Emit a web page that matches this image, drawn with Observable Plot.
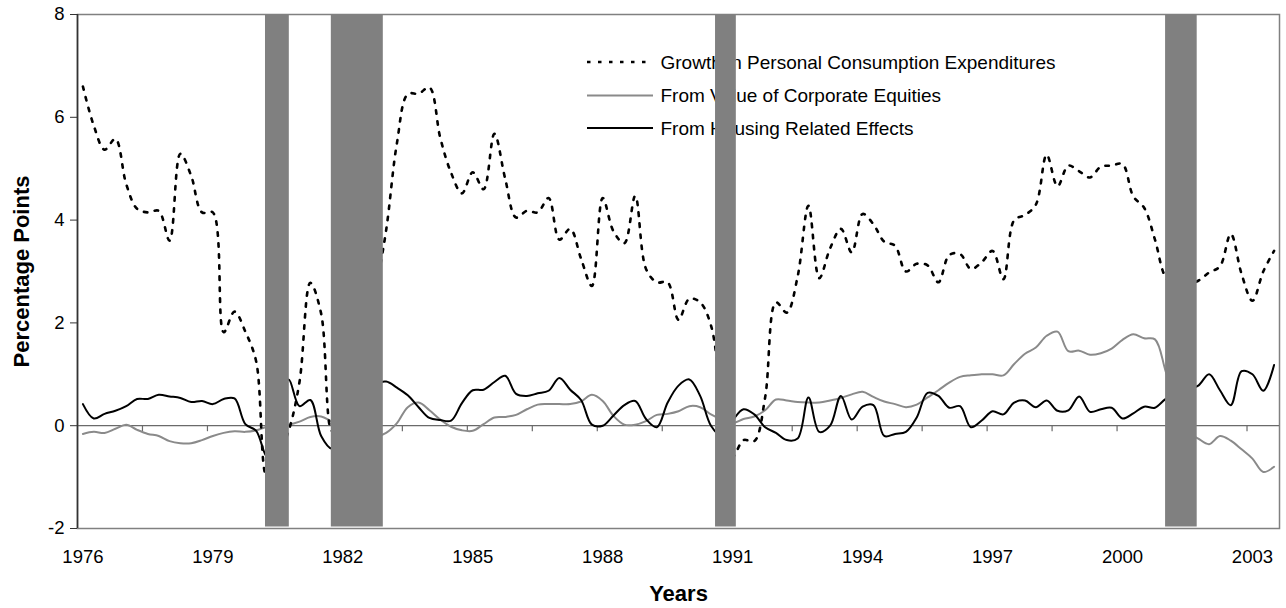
<!DOCTYPE html>
<html>
<head>
<meta charset="utf-8">
<script src="https://cdn.jsdelivr.net/npm/d3@7"></script>
<script src="https://cdn.jsdelivr.net/npm/@observablehq/plot@0.6"></script>
<style>
  body { margin: 0; background: #fff; }
  svg { display: block; }
</style>
</head>
<body>
<div id="chart"></div>
<script>
// Quarterly data, 1976Q1 .. 2003Q3 (percentage points)
const startYear = 1976;

const pce = [
  6.6, 5.84, 5.37, 5.58, 4.7, 4.22, 4.15, 4.18, 3.6, 5.29,
  4.86, 4.15, 4.15, 1.82, 2.22, 1.83, 1.25, -1.0, -0.6, -0.1,
  0.85, 2.78, 2.18, -0.1, 0.3, 0.8, 1.6, 2.6, 3.8, 5.5,
  6.45, 6.46, 6.58, 5.6, 4.92, 4.52, 4.93, 4.6, 5.68, 4.8,
  4.05, 4.18, 4.15, 4.43, 3.62, 3.83, 3.25, 2.72, 4.43, 3.78,
  3.55, 4.47, 3.05, 2.79, 2.79, 2.06, 2.47, 2.4, 1.95, 0.5,
  -0.6, -0.28, -0.3, 0.55, 2.4, 2.2, 2.9, 4.28, 2.87, 3.45,
  3.83, 3.37, 4.12, 3.92, 3.58, 3.5, 3.0, 3.15, 3.12, 2.79,
  3.32, 3.34, 3.05, 3.18, 3.4, 2.85, 4.0, 4.1, 4.3, 5.27,
  4.66, 5.06, 4.95, 4.83, 5.04, 5.06, 5.09, 4.46, 4.24, 3.62,
  2.88, 2.7, 2.75, 2.82, 2.98, 3.1, 3.73, 2.95, 2.43, 3.0,
  3.4
];

const equities = [
  -0.16, -0.12, -0.14, -0.06, 0.02, -0.08, -0.16, -0.2, -0.3, -0.34,
  -0.34, -0.28, -0.2, -0.14, -0.11, -0.12, -0.09, -0.02, 0.0, 0.02,
  0.08, 0.17, 0.18, 0.08, 0.0, -0.1, -0.2, -0.22, -0.14, 0.05,
  0.36, 0.45, 0.3, 0.12, -0.02, -0.09, -0.1, 0.03, 0.16, 0.17,
  0.21, 0.32, 0.41, 0.42, 0.42, 0.42, 0.47, 0.6, 0.48, 0.19,
  0.02, 0.02, 0.09, 0.21, 0.23, 0.28, 0.38, 0.36, 0.22, 0.12,
  0.05, 0.13, 0.18, 0.3, 0.51, 0.49, 0.46, 0.45, 0.45, 0.49,
  0.54, 0.61, 0.66, 0.56, 0.47, 0.42, 0.36, 0.41, 0.55, 0.69,
  0.84, 0.95, 0.98, 1.0, 1.0, 0.98, 1.2, 1.4, 1.52, 1.75,
  1.83, 1.45, 1.46, 1.38, 1.41, 1.5, 1.67, 1.78, 1.7, 1.68,
  1.05, 0.4, -0.1, -0.25, -0.36, -0.2, -0.29, -0.46, -0.64, -0.9,
  -0.8
];

const housing = [
  0.42, 0.14, 0.23, 0.29, 0.38, 0.52, 0.52, 0.6, 0.57, 0.54,
  0.46, 0.48, 0.42, 0.52, 0.53, 0.03, -0.1, -0.6, 0.2, 0.9,
  0.38, 0.5, -0.2, -0.45, -0.3, 0.1, 0.5, 0.8, 0.86, 0.74,
  0.59, 0.36, 0.15, 0.11, 0.1, 0.44, 0.69, 0.7, 0.85, 0.97,
  0.62, 0.58, 0.63, 0.68, 0.93, 0.7, 0.5, 0.02, 0.0, 0.2,
  0.4, 0.48, 0.13, -0.03, 0.45, 0.78, 0.9, 0.58, 0.0, -0.2,
  0.1, 0.32, 0.22, -0.03, -0.14, -0.28, -0.25, 0.55, -0.12, 0.0,
  0.58, 0.12, 0.37, 0.4, -0.2, -0.16, -0.12, 0.16, 0.64, 0.58,
  0.35, 0.38, -0.03, 0.1, 0.28, 0.22, 0.45, 0.49, 0.36, 0.49,
  0.29, 0.3, 0.57, 0.27, 0.32, 0.35, 0.14, 0.24, 0.37, 0.35,
  0.52, 0.6, 0.7, 0.78, 1.0, 0.69, 0.4, 1.06, 1.0, 0.68,
  1.18
];

const seriesNames = [
  "Growth in Personal Consumption Expenditures",
  "From Value of Corporate Equities",
  "From Housing Related Effects"
];

// Recession shading (decimal years)
const recessionStart = [1980.34, 1981.86, 1990.73, 2001.12];
const recessionEnd   = [1980.89, 1983.06, 1991.21, 2001.85];

const labelYears = [1976, 1979, 1982, 1985, 1988, 1991, 1994, 1997, 2000, 2003];
const yTicks = [-2, 0, 2, 4, 6, 8];
const xTitle = "Years";
const yTitle = "Percentage Points";

// ---- derived structures ----
const nQ = pce.length;
const quarterX = d3.range(nQ).map(i => startYear + (i + 0.5) / 4);
const xEnd = startYear + nQ / 4;
const tickMarks = d3.range(startYear + 1.5, xEnd, 1.5);
const recessions = recessionStart.map((s, i) => ({start: s, end: recessionEnd[i]}));

const font = "'Liberation Sans', Arial, Helvetica, sans-serif";

const plot = Plot.plot({
  width: 1286,
  height: 608,
  marginLeft: 77,
  marginRight: 7,
  marginTop: 14,
  marginBottom: 80,
  style: {fontFamily: font, fontSize: "18px", color: "#000", background: "#fff", overflow: "visible"},
  x: {domain: [startYear, xEnd]},
  y: {domain: [-2, 8]},
  marks: [
    Plot.frame({stroke: "#808080", strokeWidth: 1.5}),
    Plot.ruleY([0], {stroke: "#6a6a6a", strokeWidth: 1.3}),
    Plot.ruleX(tickMarks, {x: d => d, y1: 0, y2: 0, insetBottom: -6, stroke: "#6a6a6a", strokeWidth: 1.2}),
    Plot.ruleX([startYear], {stroke: "#333", strokeWidth: 1.6}),
    Plot.axisY({ticks: yTicks, tickSize: 7, tickPadding: 6, tickFormat: d => String(d), label: null, fontSize: 18.5, stroke: "#333"}),
    Plot.axisX({ticks: labelYears.map(y => y + 0.125), tickFormat: d => String(Math.floor(d)), tickSize: 0, tickPadding: 21, label: null, fontSize: 18.5}),
    Plot.line(quarterX, {x: d => d, y: (d, i) => equities[i], stroke: "#8a8a8a", strokeWidth: 2, curve: "catmull-rom"}),
    Plot.line(quarterX, {x: d => d, y: (d, i) => housing[i], stroke: "#000", strokeWidth: 2, curve: "catmull-rom"}),
    Plot.line(quarterX, {x: d => d, y: (d, i) => pce[i], stroke: "#000", strokeWidth: 2.6, strokeDasharray: "3.5,7.5", curve: "catmull-rom"}),
    Plot.text([yTitle], {frameAnchor: "left", dx: -56, rotate: -90, textAnchor: "middle", lineAnchor: "middle", fontWeight: "bold", fontSize: 22, fill: "#000"}),
    Plot.text([xTitle], {frameAnchor: "bottom", dy: 65, textAnchor: "middle", lineAnchor: "middle", fontWeight: "bold", fontSize: 22, fill: "#000"}),
    Plot.text([seriesNames[0]], {frameAnchor: "top-left", dx: 583, dy: 48, textAnchor: "start", lineAnchor: "middle", fontSize: 19, fill: "#000"}),
    Plot.text([seriesNames[1]], {frameAnchor: "top-left", dx: 583, dy: 81.5, textAnchor: "start", lineAnchor: "middle", fontSize: 19, fill: "#000"}),
    Plot.text([seriesNames[2]], {frameAnchor: "top-left", dx: 583, dy: 114, textAnchor: "start", lineAnchor: "middle", fontSize: 19, fill: "#000"}),
    Plot.rect(recessions, {x1: "start", x2: "end", y1: -2, y2: 8, insetBottom: 1.5, fill: "#808080", ariaLabel: "recession"})
  ]
});

// legend line samples, placed beneath the recession bars
const barsG = plot.querySelector('g[aria-label="recession"]');
const lg = document.createElementNS("http://www.w3.org/2000/svg", "g");
lg.setAttribute("aria-label", "legend-samples");
plot.insertBefore(lg, barsG);
const legendStyles = [
  {stroke: "#000", width: 2.6, dash: "3.5,7.5"},
  {stroke: "#8a8a8a", width: 2, dash: null},
  {stroke: "#000", width: 2, dash: null}
];
const legendY = [62, 95.5, 128];
legendStyles.forEach((s, i) => {
  const l = d3.select(lg).append("line")
    .attr("x1", 587).attr("x2", 653)
    .attr("y1", legendY[i]).attr("y2", legendY[i])
    .attr("stroke", s.stroke).attr("stroke-width", s.width);
  if (s.dash) l.attr("stroke-dasharray", s.dash);
});

document.getElementById("chart").appendChild(plot);
</script>
</body>
</html>
